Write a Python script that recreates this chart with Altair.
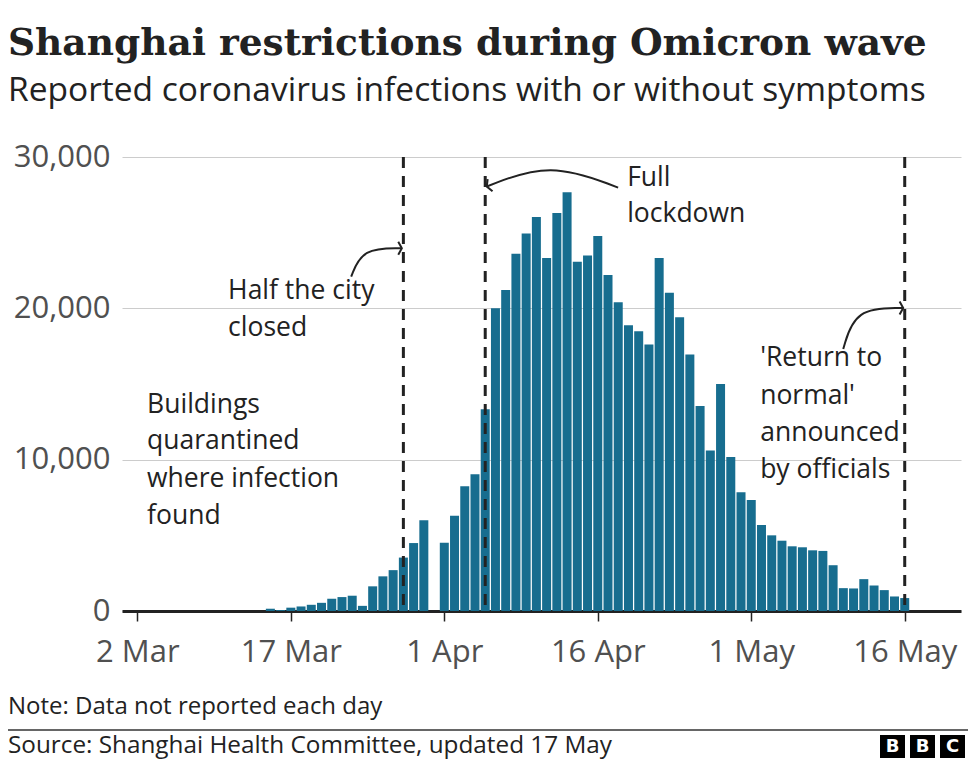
import altair as alt
import pandas as pd

# ---------------- data ----------------
march_days = list(range(15, 31))
march_cases = [150, 60, 220, 300, 410, 540, 810, 920, 1010, 340, 1630, 2290,
               2700, 3530, 4490, 5990]
april_days = list(range(1, 31))
april_cases = [4510, 6290, 8245, 9035, 13330, 20000, 21210, 23600, 24940, 26030,
               23330, 26300, 27670, 23070, 23490, 24780, 22210, 20400, 18880, 18490,
               17610, 23330, 21030, 19410, 16950, 13550, 10610, 15000, 10170, 7850]
may_days = list(range(1, 17))
may_cases = [7340, 5680, 5000, 4645, 4275, 4210, 4010, 3970, 3025, 1510, 1490,
             2105, 1685, 1380, 960, 855]

event_dates = ["2022-03-28", "2022-04-05", "2022-05-16"]
tick_dates = ["2022-03-02", "2022-03-17", "2022-04-01", "2022-04-16",
              "2022-05-01", "2022-05-16"]
y_ticks = [0, 10000, 20000, 30000]

title = "Shanghai restrictions during Omicron wave"
subtitle = "Reported coronavirus infections with or without symptoms"
note = "Note: Data not reported each day"
source = "Source: Shanghai Health Committee, updated 17 May"

ann_buildings = ["Buildings", "quarantined", "where infection", "found"]
ann_half = ["Half the city", "closed"]
ann_full = ["Full", "lockdown"]
ann_return = ["'Return to", "normal'", "announced", "by officials"]

# ---------------- helpers ----------------
BASE = pd.Timestamp("2022-03-02", tz="UTC")


def ms(ts):
    return int(pd.Timestamp(ts).value // 10**6)


def iso(ts):
    return pd.Timestamp(ts).strftime("%Y-%m-%dT%H:%M:%SZ")


def at(off):
    return iso(BASE + pd.Timedelta(days=off))


rows = []
for m, days, cases in [(3, march_days, march_cases), (4, april_days, april_cases),
                       (5, may_days, may_cases)]:
    for d, c in zip(days, cases):
        rows.append({"date": f"2022-{m:02d}-{d:02d}T00:00:00Z", "cases": c})
bars_df = pd.DataFrame(rows)

FONT = "Open Sans"
INK = "#222222"
GREY = "#505050"
W, H = 839, 454

xscale = alt.Scale(type="utc", nice=False, padding=0,
                   domain=[ms(pd.Timestamp("2022-02-28T12:00", tz="UTC")),
                           ms(pd.Timestamp("2022-05-21T12:00", tz="UTC"))])
yscale = alt.Scale(domain=[0, 30000], nice=False)

xaxis = alt.Axis(values=[ms(pd.Timestamp(s, tz="UTC")) for s in tick_dates],
                 labelExpr="utcFormat(datum.value, '%-d %b')",
                 title=None, grid=False,
                 labelFont=FONT, labelFontSize=31, labelColor=GREY,
                 domainColor=INK, domainWidth=3, tickColor=INK,
                 tickWidth=1.5, tickSize=10, labelPadding=16,
                 labelFlush=False, labelOverlap=False)
yaxis = alt.Axis(values=y_ticks, labelExpr="format(datum.value, ',')",
                 title=None, domain=False, ticks=False, labelFont=FONT,
                 labelFontSize=31, labelColor=GREY, labelPadding=12,
                 gridColor="#cccccc", gridWidth=1)


def X(field="date"):
    return alt.X(f"{field}:T", scale=xscale, axis=xaxis, title=None)


def Y(field="value"):
    return alt.Y(f"{field}:Q", scale=yscale, axis=yaxis, title=None)


bars = alt.Chart(bars_df).mark_bar(size=9, color="#176d8f").encode(
    x=X(), y=Y("cases"))

events = alt.Chart(pd.DataFrame({"date": [iso(pd.Timestamp(s, tz="UTC"))
                                          for s in event_dates]})).mark_rule(
    color=INK, strokeWidth=3, strokeDash=[11, 8]
).encode(x=X(), y=alt.value(0), y2=alt.value(H))

# arrows: (day offset from 2 Mar, value) control points, arrowhead angle
arrow_defs = [
    ([(20.9, 22100), (22.0, 23970), (25.85, 23970)], 0),
    ([(46.99, 27980), (40.34, 29690), (34.15, 28050)], 158),
    ([(68.99, 17310), (70.16, 20020), (74.85, 20020)], 0),
]
layers = [bars, events]
for pts, ang in arrow_defs:
    df = pd.DataFrame({"date": [at(p[0]) for p in pts],
                       "value": [p[1] for p in pts],
                       "i": list(range(len(pts)))})
    layers.append(alt.Chart(df).mark_line(interpolate="basis", color=INK,
                                          strokeWidth=2).encode(
        x=X(), y=Y(), order="i:Q"))
    layers.append(alt.Chart(df.iloc[[-1]]).mark_point(
        shape="M -0.55 -1 L 0 0 L -0.55 1", filled=False, size=170,
        strokeWidth=2, color=INK, opacity=1, angle=ang).encode(x=X(), y=Y()))

# annotation texts
ann_defs = [
    (ann_buildings, 0.95, [13638, 11204, 8704, 6270]),
    (ann_half, 8.87, [21139, 18704]),
    (ann_full, 47.87, [28639, 26204]),
    (ann_return, 60.87, [16731, 14231, 11731, 9297]),
]
for lines, off, vals in ann_defs:
    df = pd.DataFrame({"t": lines, "date": [at(off)] * len(lines), "value": vals})
    layers.append(alt.Chart(df).mark_text(
        align="left", baseline="middle", font=FONT, fontSize=26.5, color=INK
    ).encode(x=X(), y=Y(), text="t:N"))


def chrome_text(txt, x, y, size, weight="normal", font=FONT, color=INK):
    return alt.Chart(pd.DataFrame({"t": [txt]})).mark_text(
        align="left", baseline="alphabetic", font=font, fontSize=size,
        fontWeight=weight, color=color
    ).encode(x=alt.value(x), y=alt.value(y), text="t:N")


layers.append(chrome_text(title, -114, -102, 37.5, "bold", "DejaVu Serif"))
layers.append(chrome_text(subtitle, -114, -56, 33.5))
layers.append(chrome_text(note, -114, 557, 24))
layers.append(chrome_text(source, -114, 596, 24.3))
layers.append(alt.Chart(pd.DataFrame({"a": [0]})).mark_rule(
    color="#333333", strokeWidth=1.5).encode(
    x=alt.value(-114), x2=alt.value(W + 7), y=alt.value(573)))

# BBC logo
for i, letter in enumerate(["B", "B", "C"]):
    x0 = 758 + i * 30
    layers.append(alt.Chart(pd.DataFrame({"t": [letter]})).mark_rect(
        color="#000000").encode(x=alt.value(x0), x2=alt.value(x0 + 25),
                                y=alt.value(578), y2=alt.value(601)))
    layers.append(alt.Chart(pd.DataFrame({"t": [letter]})).mark_text(
        align="center", baseline="middle", font="DejaVu Sans", fontSize=18,
        fontWeight="bold", color="#ffffff").encode(
        x=alt.value(x0 + 12.5), y=alt.value(590), text="t:N"))

chart = alt.layer(*layers).properties(
    width=W, height=H,
    autosize=alt.AutoSizeParams(type="none"),
    padding={"left": 114, "top": 149, "right": 7, "bottom": 153},
).configure_view(stroke=None)

chart.save("out.html", embed_options={"renderer": "svg", "actions": False})
